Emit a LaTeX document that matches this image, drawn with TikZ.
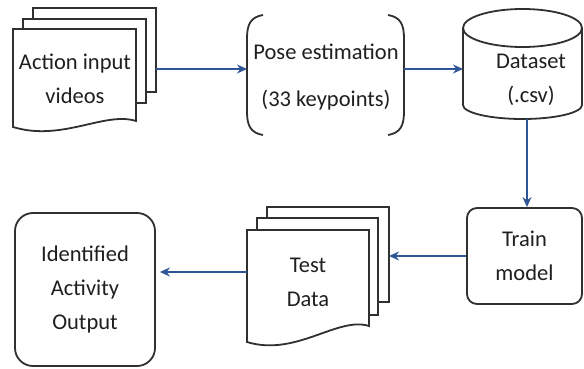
\documentclass[tikz,border=0pt]{standalone}
\usepackage{fontspec}
\setmainfont{Carlito}
\usetikzlibrary{arrows.meta}
\definecolor{flowblue}{HTML}{2F5597}
\definecolor{boxline}{HTML}{303030}
\tikzset{
  shapeline/.style={draw=boxline, line width=1.8pt, fill=white},
  flow/.style={draw=flowblue, line width=1.5pt, -{Stealth[length=10pt,width=9pt]}},
  txt/.style={font=\fontsize{22.5}{34}\selectfont, text=black!88, align=center, inner sep=0pt},
}
\begin{document}
\begin{tikzpicture}[x=1pt,y=-1pt]
\useasboundingbox (0,0) rectangle (584,369);
% input videos (stacked pages)
\draw[shapeline] (33,8) rectangle (156,92);
\draw[shapeline] (23,19) rectangle (146,103);
\draw[shapeline] (13,29) -- (136,29) -- (136,121) .. controls (105,111) and (62,142) .. (13,127) -- cycle;
\node[txt] (videos) at (75,79) {Action input\\videos};
\coordinate (vid-r) at (156,69);
% pose estimation (brackets)
\draw[draw=boxline, line width=1.8pt] (263,15) .. controls (251,17) and (247,24) .. (247,38) -- (247,112) .. controls (247,126) and (251,133) .. (263,135);
\draw[draw=boxline, line width=1.8pt] (388,15) .. controls (400,17) and (404,24) .. (404,38) -- (404,112) .. controls (404,126) and (400,133) .. (388,135);
\node[txt] (pose) at (326,77) {Pose estimation\\[13pt](33 keypoints)};
\coordinate (pose-l) at (247,69);
\coordinate (pose-r) at (404,69);
% dataset (cylinder)
\draw[shapeline] (463,28) -- (463,105) arc[start angle=180, end angle=0, x radius=59.5, y radius=14] -- (582,28);
\draw[shapeline] (522.5,28) ellipse [x radius=59.5, y radius=19];
\node[txt] (data) at (531,80) {Dataset\\(.csv)};
\coordinate (data-l) at (463,69);
\coordinate (data-b) at (527,119);
% train model
\node[shapeline, txt, rounded corners=10pt, minimum width=115pt, minimum height=96pt] (train) at (524.5,256) {Train\\model};
% test data (stacked pages)
\draw[shapeline] (267,207) rectangle (389,302);
\draw[shapeline] (257,218) rectangle (378,315);
\draw[shapeline] (247,230) -- (369,230) -- (369,326) .. controls (338,316) and (296,357) .. (247,342) -- cycle;
\node[txt] (test) at (308,282) {Test\\Data};
\coordinate (test-r) at (389,258);
\coordinate (test-l) at (247,272);
% output
\node[shapeline, txt, rounded corners=18pt, minimum width=140pt, minimum height=153pt] (output) at (85,289.5) {Identified\\Activity\\Output};
% connectors
\draw[flow] (vid-r) -- (pose-l);
\draw[flow] (pose-r) -- (data-l);
\draw[flow] (data-b) -- (data-b |- train.north);
\draw[flow] (train.west) -- (train.west -| test-r);
\draw[flow, shorten >=4pt] (test-l) -- (test-l -| output.east);
\end{tikzpicture}
\end{document}
